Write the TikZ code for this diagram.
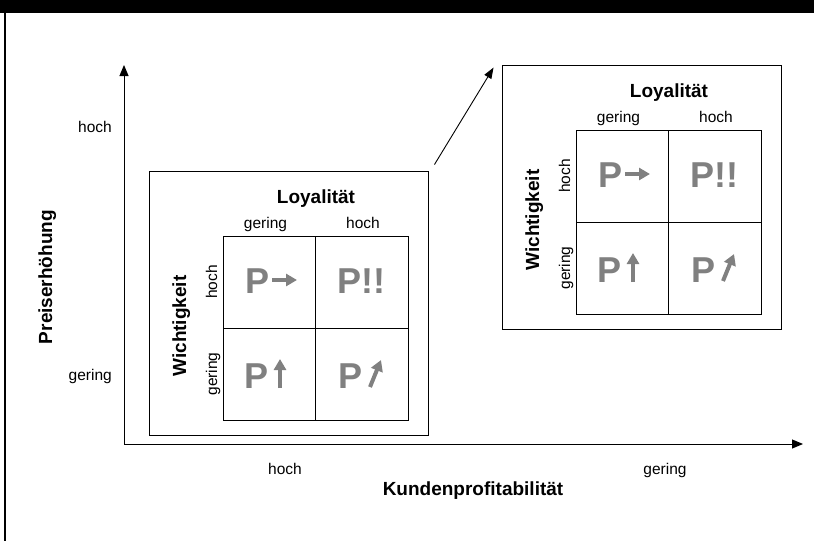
\documentclass[tikz,border=0pt]{standalone}
\usepackage{fontspec}
\setmainfont{Liberation Sans}
\usetikzlibrary{arrows.meta,positioning}
\definecolor{pgray}{RGB}{128,128,128}
\tikzset{every node/.style={inner sep=0pt},
         axis/.style={draw, line width=1pt, -{Triangle[length=11pt,width=9pt]}},
         link/.style={draw, line width=0.9pt, -{Triangle[length=11pt,width=8pt]}}
}
\tikzstyle{frame} = [rectangle, draw, line width=0.9pt, minimum width=279, minimum height=264]
\tikzstyle{cell} = [rectangle, draw, line width=0.9pt, minimum width=92.5, minimum height=92]
\tikzstyle{lbl} = [font=\fontsize{15.5}{18}\selectfont]
\tikzstyle{title} = [font=\fontsize{19}{22}\selectfont\bfseries]
\tikzstyle{bigp} = [text=pgray, font=\fontsize{36}{40}\selectfont\bfseries, anchor=base west]
\tikzstyle{trend} = [draw=pgray, line width=4pt, -{Triangle[length=11pt,width=12pt]}]

\begin{document}
\begin{tikzpicture}[x=1pt, y=-1pt]
    \useasboundingbox (0,0) rectangle (814,541);
    % frame of the slide
    \fill (0,0) rectangle (814,12.5);
    \fill (3.5,12) rectangle (5.5,541);

    % axes
    \coordinate (orig) at (124,444);
    \coordinate (ytip) at (124,65);
    \coordinate (xtip) at (803,444);
    \draw [axis] (orig) -- (ytip);
    \draw [axis] (orig) -- (xtip);
    \node [lbl, anchor=base east] (yhoch) at (112,132) {hoch};
    \node [lbl, anchor=base east] (ygering) at (112,380) {gering};
    \node [title, rotate=90, anchor=base] (ytitle) at (52,277) {Preiserhöhung};
    \node [lbl, anchor=base] (xhoch) at (285,474) {hoch};
    \node [lbl, anchor=base] (xgering) at (665,474) {gering};
    \node [title, anchor=base] (xtitle) at (473,495) {Kundenprofitabilität};

    % the two portfolio boxes
    \foreach \bx/\by/\n in {149/171/l, 502/65/r} {
    \begin{scope}[shift={(\bx,\by)}]
        \node [frame] (box\n) at (139.5,132) {};
        \node [cell] (\n-hg) at (120.25,111) {};
        \node [cell] (\n-hh) at (212.75,111) {};
        \node [cell] (\n-gg) at (120.25,203) {};
        \node [cell] (\n-gh) at (212.75,203) {};
        \node [title, anchor=base] (\n-loy) at (167,32) {Loyalität};
        \node [lbl, anchor=base] (\n-cg) at (116.5,57) {gering};
        \node [lbl, anchor=base] (\n-ch) at (214,57) {hoch};
        \node [title, rotate=90, anchor=base] (\n-wich) at (37,155) {Wichtigkeit};
        \node [lbl, rotate=90, anchor=base] (\n-rh) at (68,111) {hoch};
        \node [lbl, rotate=90, anchor=base] (\n-rg) at (68,203) {gering};
        \node [bigp] (\n-pa) at (96,122) {P};
        \node [bigp] (\n-pb) at (188.5,122) {P!!};
        \node [bigp] (\n-pc) at (95.5,217) {P};
        \node [bigp] (\n-pd) at (189.5,217) {P};
        \draw [trend] (123,109) -- (148,109);
        \draw [trend] (131,217) -- (131,188);
        \draw [trend] (221,216) -- (232,189);
    \end{scope}
    }

    \draw [link] ([shift={(6,-6)}]boxl.north east) -- ([shift={(-8,3)}]boxr.north west);
\end{tikzpicture}
\end{document}
